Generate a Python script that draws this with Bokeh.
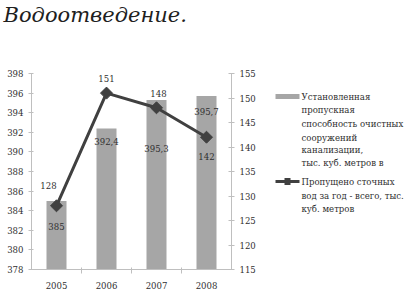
import math
from bokeh.plotting import figure
from bokeh.models import (Range1d, LinearAxis, FixedTicker, ColumnDataSource, Title,
                          AllLabels)
from bokeh.embed import file_html
from bokeh.resources import INLINE

# ---- data ----
years = ["2005", "2006", "2007", "2008"]
capacity = [385.0, 392.4, 395.3, 395.7]
capacity_labels = ["385", "392,4", "395,3", "395,7"]
discharged = [128, 151, 148, 142]
discharged_labels = ["128", "151", "148", "142"]
left_ticks = [378, 380, 382, 384, 386, 388, 390, 392, 394, 396, 398]
right_ticks = [115, 120, 125, 130, 135, 140, 145, 150, 155]
legend_bar = ["Установленная", "пропускная", "способность очистных",
              "сооружений", "канализации,", "тыс. куб. метров в"]
legend_line = ["Пропущено сточных", "вод за год - всего, тыс.", "куб. метров"]
title_text = "Водоотведение."

# ---- styles ----
FONT = "DejaVu Serif Condensed"
TFONT = "DejaVu Serif"
FS = "9.5px"
BAR = "#a6a6a6"
LINE = "#404040"
AXIS = "#bfbfbf"
TXT = "#303030"
bar_lbl_dy = [26, 13, 49, 15]
line_lbl_dx = [-8, 0, 2, 0]
line_lbl_dy = [-20, -15, -14, 19]
# legend row positions (pixels from the top of the picture)
legend_rows = [96, 109, 123, 137, 149, 162, 182, 196, 209]

xs = [i + 1 for i in range(len(years))]

p = figure(width=406, height=291, x_range=Range1d(0.5, len(years) + 0.5),
           y_range=Range1d(left_ticks[0], left_ticks[-1]),
           output_backend="svg", toolbar_location=None,
           min_border_left=31, min_border_right=172, min_border_top=73,
           min_border_bottom=21, outline_line_color=None,
           background_fill_color="white", border_fill_color="white")
p.xgrid.visible = False
p.ygrid.visible = False
p.extra_y_ranges = {"r": Range1d(right_ticks[0], right_ticks[-1]),
                    "leg": Range1d(270, 73)}

# title (a blank spacer title keeps the main one at the top edge)
p.title.text = ""
p.add_layout(Title(text=" ", text_font_size="1px", standoff=42), "above")
p.add_layout(Title(text=title_text, text_font=TFONT, text_font_style="italic",
                   text_font_size="21px", text_color="#202020", align="left",
                   offset=-28, vertical_align="top", standoff=0), "above")

# bars
src_b = ColumnDataSource(dict(x=xs, top=capacity, lbl=capacity_labels, dy=bar_lbl_dy))
p.vbar(x="x", top="top", bottom=left_ticks[0], width=0.4, source=src_b,
       fill_color=BAR, line_color=None)
p.text(x="x", y="top", text="lbl", y_offset="dy", source=src_b,
       text_align="center", text_baseline="middle",
       text_font_size=FS, text_color=TXT, text_font={"value": FONT})

# line
src_l = ColumnDataSource(dict(x=xs, y=discharged, lbl=discharged_labels,
                              dx=line_lbl_dx, dy=line_lbl_dy))
p.line(x="x", y="y", source=src_l, y_range_name="r", line_color=LINE, line_width=3)
p.scatter(x="x", y="y", source=src_l, y_range_name="r", marker="square",
          angle=math.pi / 4, size=8.5, fill_color=LINE, line_color=LINE)
p.text(x="x", y="y", text="lbl", x_offset="dx", y_offset="dy", source=src_l,
       y_range_name="r", text_align="center", text_baseline="middle",
       text_font_size=FS, text_color=TXT, text_font={"value": FONT})

# axes
xa = p.xaxis[0]
xa.ticker = FixedTicker(ticks=xs, minor_ticks=[v + 0.5 for v in xs[:-1]])
xa.major_label_overrides = {v: y for v, y in zip(xs, years)}
xa.major_tick_in = 0
xa.major_tick_out = 0
xa.minor_tick_in = 2
xa.minor_tick_out = 4
xa.minor_tick_line_color = AXIS
xa.axis_line_color = AXIS
xa.major_label_standoff = 8

ya = p.yaxis[0]
ya.ticker = FixedTicker(ticks=left_ticks)
ya.major_tick_in = 2
ya.major_tick_out = 3
ya.minor_tick_line_color = None
ya.major_tick_line_color = AXIS
ya.axis_line_color = AXIS
ya.major_label_standoff = 5

ra = LinearAxis(y_range_name="r", ticker=FixedTicker(ticks=right_ticks))
ra.major_tick_in = 3
ra.major_tick_out = 3
ra.minor_tick_line_color = None
ra.major_tick_line_color = AXIS
ra.axis_line_color = AXIS
ra.major_label_standoff = 5
ra.axis_label = " "
ra.axis_label_text_font_size = "1px"
ra.axis_label_standoff = 13
p.add_layout(ra, "right")

for ax in (xa, ya, ra):
    ax.major_label_text_font = FONT
    ax.major_label_text_font_size = FS
    ax.major_label_text_color = TXT

# ---- legend, built from axes in the right margin ----
bar_row = legend_rows[0]
line_row = legend_rows[len(legend_bar)]


def swatch_axis(row, color, width, tick_in, tick_out, dash="solid"):
    a = LinearAxis(y_range_name="leg", ticker=FixedTicker(ticks=[row]))
    a.major_label_overrides = {row: ""}
    a.axis_line_color = None
    a.minor_tick_line_color = None
    a.major_tick_line_color = color
    a.major_tick_line_width = width
    a.major_tick_line_cap = "butt"
    a.major_tick_line_dash = dash
    a.major_tick_in = tick_in
    a.major_tick_out = tick_out
    a.major_label_standoff = 0
    a.major_label_text_font_size = "1px"
    return a


p.add_layout(swatch_axis(bar_row, BAR, 5, 0, 24), "right")
p.add_layout(swatch_axis(line_row, LINE, 3, 24, 0), "right")
p.add_layout(swatch_axis(line_row, LINE, 7, 24, 0, dash="0 9 6 9"), "right")

leg_text = legend_bar + legend_line
ta = LinearAxis(y_range_name="leg", ticker=FixedTicker(ticks=legend_rows))
ta.major_label_overrides = {r: t for r, t in zip(legend_rows, leg_text)}
ta.major_label_policy = AllLabels()
ta.axis_line_color = None
ta.major_tick_line_color = None
ta.minor_tick_line_color = None
ta.major_tick_in = 0
ta.major_tick_out = 0
ta.major_label_standoff = 2
ta.major_label_text_font = FONT
ta.major_label_text_font_size = FS
ta.major_label_text_color = TXT
p.add_layout(ta, "right")

open("out.html", "w").write(file_html(p, INLINE))
